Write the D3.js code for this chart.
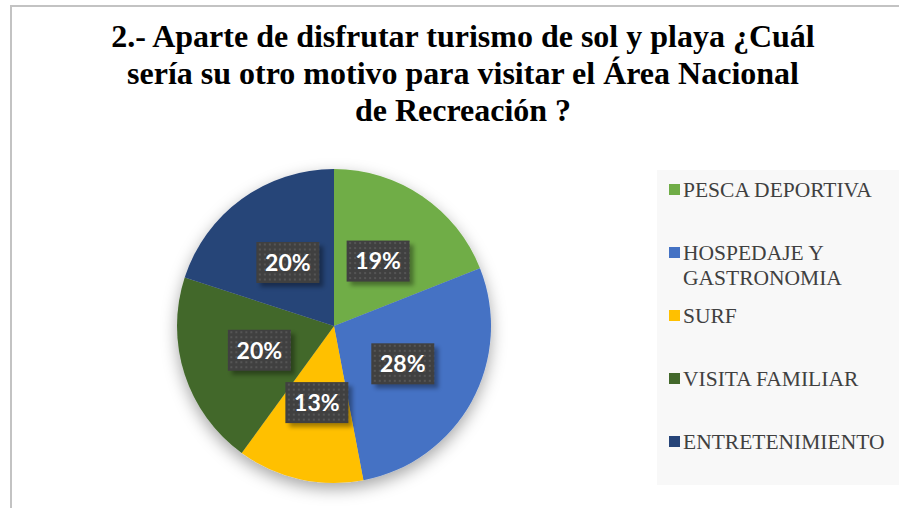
<!DOCTYPE html>
<html>
<head>
<meta charset="utf-8">
<script src="https://cdn.jsdelivr.net/npm/d3@7"></script>
<style>
    body { margin: 0; background: #ffffff; }
    #chart { width: 899px; height: 508px; }
</style>
</head>
<body>
<div id="chart"></div>
<script>
// Chart data
var titleLines = [
    "2.- Aparte de disfrutar turismo de sol y playa ¿Cuál",
    "sería su otro motivo para visitar el Área Nacional",
    "de Recreación ?"
];
var categories = ["PESCA DEPORTIVA", "HOSPEDAJE Y GASTRONOMIA", "SURF", "VISITA FAMILIAR", "ENTRETENIMIENTO"];
var values = [19, 28, 13, 20, 20];
var colors = ["#70ad47", "#4472c4", "#ffc000", "#43682b", "#264478"];

window.onload = function() {
    var width = 899;
    var height = 508;

    var svg = d3.select("#chart")
                .append("svg")
                .attr("width", width)
                .attr("height", height);

    var defs = svg.append("defs");

    // Soft shadow under the pie
    var pieShadow = defs.append("filter")
        .attr("id", "pieShadow")
        .attr("x", "-20%").attr("y", "-20%")
        .attr("width", "140%").attr("height", "140%");
    pieShadow.append("feDropShadow")
        .attr("dx", 0).attr("dy", 6)
        .attr("stdDeviation", 8)
        .attr("flood-color", "#000")
        .attr("flood-opacity", 0.35);

    // Blur for the label box shadows
    var boxBlur = defs.append("filter")
        .attr("id", "boxBlur")
        .attr("x", "-30%").attr("y", "-30%")
        .attr("width", "160%").attr("height", "160%");
    boxBlur.append("feGaussianBlur").attr("stdDeviation", 2);

    // Dotted texture of the data label boxes
    var pattern = defs.append("pattern")
        .attr("id", "dots")
        .attr("width", 5).attr("height", 5)
        .attr("patternUnits", "userSpaceOnUse");
    pattern.append("rect").attr("width", 5).attr("height", 5).attr("fill", "#404040");
    pattern.append("rect").attr("x", 1).attr("y", 1).attr("width", 2).attr("height", 2).attr("fill", "#555555");

    // Frame of the chart area
    svg.append("rect")
       .attr("x", 11).attr("y", 6)
       .attr("width", width + 20).attr("height", height + 20)
       .attr("fill", "#ffffff")
       .attr("stroke", "#c3c3c3")
       .attr("stroke-width", 2);

    // Title
    svg.append("g")
       .selectAll("text")
       .data(titleLines)
       .enter()
       .append("text")
       .attr("x", 463)
       .attr("y", function(d, i) { return 47 + i * 37; })
       .attr("text-anchor", "middle")
       .attr("font-family", "'Liberation Serif', 'Times New Roman', serif")
       .attr("font-weight", "bold")
       .attr("font-size", "32px")
       .attr("fill", "#000000")
       .text(function(d) { return d; });

    // Pie
    var radius = 157;
    var cx = 334, cy = 326;

    var pie = d3.pie().sort(null).value(function(d) { return d; });
    var arc = d3.arc().innerRadius(0).outerRadius(radius);
    var arcs = pie(values);

    var g = svg.append("g")
               .attr("transform", "translate(" + cx + "," + cy + ")");

    g.append("g")
     .attr("filter", "url(#pieShadow)")
     .selectAll("path")
     .data(arcs)
     .enter()
     .append("path")
     .attr("d", arc)
     .attr("fill", function(d, i) { return colors[i]; });

    // Data labels
    var labels = g.selectAll(".label")
                  .data(arcs)
                  .enter()
                  .append("g")
                  .attr("class", "label")
                  .attr("transform", function(d) { return "translate(" + arc.centroid(d) + ")"; });

    var boxW = 63, boxH = 41;

    labels.append("rect")
          .attr("x", -boxW / 2 + 4).attr("y", -boxH / 2 + 4)
          .attr("width", boxW).attr("height", boxH)
          .attr("fill", "#000")
          .attr("opacity", 0.35)
          .attr("filter", "url(#boxBlur)");

    labels.append("rect")
          .attr("x", -boxW / 2).attr("y", -boxH / 2)
          .attr("width", boxW).attr("height", boxH)
          .attr("fill", "url(#dots)");

    labels.append("text")
          .attr("text-anchor", "middle")
          .attr("dy", "0.36em")
          .attr("font-family", "Lato, 'Noto Sans', sans-serif")
          .attr("font-weight", "bold")
          .attr("font-size", "23px")
          .attr("fill", "#ffffff")
          .text(function(d) { return d.value + "%"; });

    // Legend
    svg.append("rect")
       .attr("x", 657).attr("y", 170)
       .attr("width", width - 657).attr("height", 315)
       .attr("fill", "#f8f8f8");

    var legend = svg.append("g")
                    .selectAll("g")
                    .data(categories)
                    .enter()
                    .append("g")
                    .attr("transform", function(d, i) { return "translate(669," + (189.5 + i * 63) + ")"; });

    legend.append("rect")
          .attr("x", 0).attr("y", -5.5)
          .attr("width", 11).attr("height", 11)
          .attr("fill", function(d, i) { return colors[i]; });

    legend.append("text")
          .attr("x", 14)
          .attr("font-family", "'Liberation Serif', 'Times New Roman', serif")
          .attr("font-size", "21.5px")
          .attr("fill", "#404040")
          .each(function(d) {
              // wrap long names into lines of at most 212px
              var text = d3.select(this);
              var words = d.split(" ");
              var lines = [];
              var line = "";
              var probe = text.append("tspan");
              words.forEach(function(w) {
                  var test = line ? line + " " + w : w;
                  probe.text(test);
                  if (probe.node().getComputedTextLength() > 212 && line) {
                      lines.push(line);
                      line = w;
                  } else {
                      line = test;
                  }
              });
              lines.push(line);
              probe.remove();
              lines.forEach(function(l, i) {
                  text.append("tspan")
                      .attr("x", 14)
                      .attr("dy", i === 0 ? "0.35em" : "25px")
                      .text(l);
              });
          });
};
</script>
</body>
</html>
